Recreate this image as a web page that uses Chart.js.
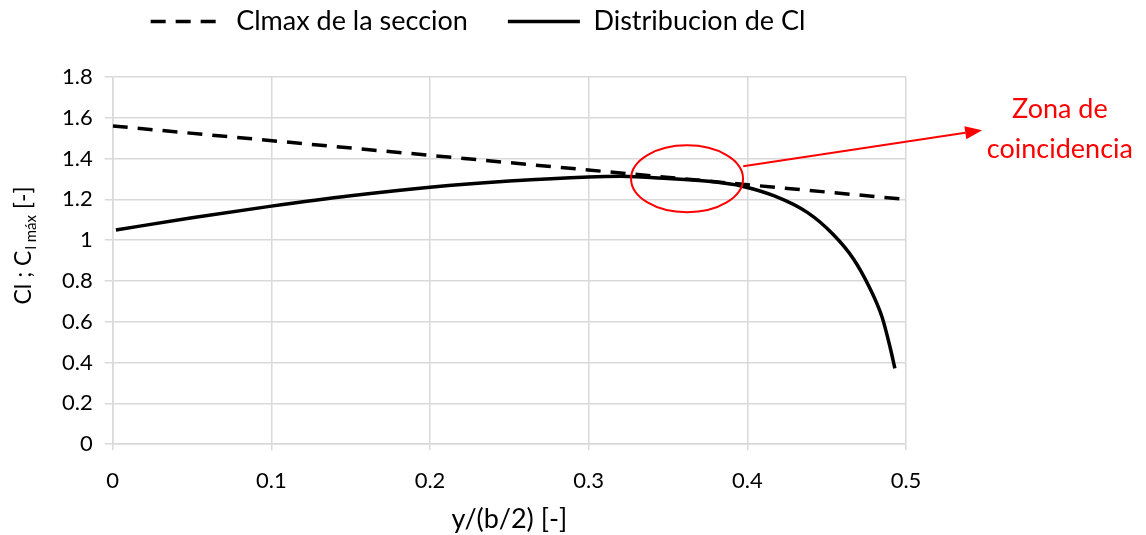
<!DOCTYPE html>
<html>
<head>
<meta charset="utf-8">
<script src="https://cdn.jsdelivr.net/npm/chart.js@4.4.1/dist/chart.umd.min.js"></script>
<style>
  html, body { margin: 0; padding: 0; background: #fff; }
  #wrap { width: 1146px; height: 535px; }
</style>
</head>
<body>
<div id="wrap"><canvas id="myChart" width="1146" height="535"></canvas></div>
<script>
// Clmax de la seccion (linea recta a trazos)
const clmaxX = [0, 0.5];
const clmaxY = [1.56, 1.20];

// Distribucion de Cl
const clX = [0.002, 0.05, 0.1, 0.15, 0.2, 0.25, 0.3, 0.32, 0.35, 0.38, 0.396, 0.417, 0.438, 0.454, 0.467, 0.477, 0.485, 0.490, 0.493];
const clY = [1.05, 1.11, 1.167, 1.218, 1.26, 1.29, 1.31, 1.313, 1.302, 1.285, 1.266, 1.217, 1.135, 1.029, 0.907, 0.768, 0.621, 0.474, 0.372];

const seriesNames = ['Clmax de la seccion', 'Distribucion de Cl'];
const xTicks = [0, 0.1, 0.2, 0.3, 0.4, 0.5];
const yTicks = [0, 0.2, 0.4, 0.6, 0.8, 1, 1.2, 1.4, 1.6, 1.8];

// anotacion: elipse (centro, radios) y flecha, en unidades de datos
const zoneCenter = [0.362, 1.301];
const zoneRadius = [0.0353, 0.164];
const arrowFrom = [0.3974, 1.363];
const arrowTo = [0.548, 1.539];
const noteLines = ['Zona de', 'coincidencia'];
const notePos = [[0.597, 1.642], [0.597, 1.446]];

const FONT = 'Lato, "Open Sans", sans-serif';
const legendExtra = 32;
const toPoints = (xs, ys) => xs.map((x, i) => ({ x: x, y: ys[i] }));

// da mas alto a la leyenda para separar el grafico
const legendSpace = {
  id: 'legendSpace',
  beforeInit: (chart) => {
    const fit = chart.legend.fit;
    chart.legend.fit = function () {
      fit.call(this);
      this.height += legendExtra;
    };
  }
};

const annotatePlugin = {
  id: 'annotate',
  afterDraw: (chart) => {
    const ctx = chart.ctx;
    const sx = chart.scales.x;
    const sy = chart.scales.y;
    const px = (v) => sx.getPixelForValue(v);
    const py = (v) => sy.getPixelForValue(v);
    ctx.save();
    ctx.strokeStyle = '#ff0000';
    ctx.fillStyle = '#ff0000';
    ctx.lineWidth = 2;
    // elipse
    const cx = px(zoneCenter[0]);
    const cy = py(zoneCenter[1]);
    const rx = px(zoneCenter[0] + zoneRadius[0]) - cx;
    const ry = cy - py(zoneCenter[1] + zoneRadius[1]);
    ctx.beginPath();
    ctx.ellipse(cx, cy, rx, ry, 0, 0, Math.PI * 2);
    ctx.stroke();
    // flecha
    const x1 = px(arrowFrom[0]), y1 = py(arrowFrom[1]);
    const x2 = px(arrowTo[0]), y2 = py(arrowTo[1]);
    const ang = Math.atan2(y2 - y1, x2 - x1);
    const head = 17;
    const bx = x2 - Math.cos(ang) * head, by = y2 - Math.sin(ang) * head;
    ctx.beginPath();
    ctx.moveTo(x1, y1);
    ctx.lineTo(bx, by);
    ctx.stroke();
    ctx.beginPath();
    ctx.moveTo(x2, y2);
    ctx.lineTo(bx + Math.sin(ang) * 6.5, by - Math.cos(ang) * 6.5);
    ctx.lineTo(bx - Math.sin(ang) * 6.5, by + Math.cos(ang) * 6.5);
    ctx.closePath();
    ctx.fill();
    // texto
    ctx.font = '27px ' + FONT;
    ctx.textAlign = 'center';
    ctx.textBaseline = 'middle';
    noteLines.forEach((t, i) => ctx.fillText(t, px(notePos[i][0]), py(notePos[i][1])));

    // titulo eje Y con subindice
    ctx.fillStyle = '#000';
    ctx.translate(24, 246);
    ctx.rotate(-Math.PI / 2);
    ctx.textBaseline = 'middle';
    ctx.textAlign = 'left';
    const part1 = 'Cl ; C';
    const part2 = 'l máx';
    const part3 = ' [-]';
    ctx.font = '23px ' + FONT;
    const w1 = ctx.measureText(part1).width;
    const w3 = ctx.measureText(part3).width;
    ctx.font = '15px ' + FONT;
    const w2 = ctx.measureText(part2).width;
    const start = -(w1 + w2 + w3) / 2;
    ctx.font = '23px ' + FONT;
    ctx.fillText(part1, start, 0);
    ctx.font = '15px ' + FONT;
    ctx.fillText(part2, start + w1 + 1, 7);
    ctx.font = '23px ' + FONT;
    ctx.fillText(part3, start + w1 + w2 + 1, 0);
    ctx.restore();
  }
};

const ctx = document.getElementById('myChart').getContext('2d');
const chart = new Chart(ctx, {
  type: 'line',
  data: {
    datasets: [{
      label: seriesNames[0],
      data: toPoints(clmaxX, clmaxY),
      borderColor: '#000',
      backgroundColor: '#000',
      borderWidth: 3.5,
      borderDash: [15, 10],
      pointRadius: 0,
      pointStyle: 'line'
    }, {
      label: seriesNames[1],
      data: toPoints(clX, clY),
      borderColor: '#000',
      backgroundColor: '#000',
      borderWidth: 3.5,
      cubicInterpolationMode: 'monotone',
      pointRadius: 0,
      pointStyle: 'line'
    }]
  },
  options: {
    responsive: false,
    animation: false,
    layout: { padding: { left: 50, right: 240, top: -32, bottom: 0 } },
    plugins: {
      legend: {
        position: 'top',
        align: 'center',
        labels: {
          usePointStyle: true,
          pointStyle: 'line',
          pointStyleWidth: 72,
          color: '#000',
          font: { family: FONT, size: 27 },
          padding: 40,
          generateLabels: (chart) => {
            const items = Chart.defaults.plugins.legend.labels.generateLabels(chart);
            items.forEach((it, i) => {
              it.lineDash = chart.data.datasets[i].borderDash || [];
              it.lineWidth = 3.5;
              it.strokeStyle = '#000';
            });
            return items;
          }
        }
      },
      tooltip: { enabled: false }
    },
    scales: {
      x: {
        type: 'linear',
        min: 0,
        max: 0.5,
        afterBuildTicks: (axis) => { axis.ticks = xTicks.map(v => ({ value: v })); },
        ticks: {
          color: '#000',
          font: { family: FONT, size: 22 },
          padding: 18,
          maxRotation: 0,
          callback: (v) => String(Math.round(v * 10) / 10)
        },
        grid: { color: '#d9d9d9', lineWidth: 1.5, tickLength: 6 },
        border: { color: '#d9d9d9', width: 1.5 },
        title: {
          display: true,
          text: 'y/(b/2) [-]',
          color: '#000',
          font: { family: FONT, size: 27 },
          padding: { top: -10, bottom: 0 }
        }
      },
      y: {
        type: 'linear',
        min: 0,
        max: 1.8,
        afterBuildTicks: (axis) => { axis.ticks = yTicks.map(v => ({ value: v })); },
        ticks: {
          color: '#000',
          font: { family: FONT, size: 22 },
          padding: 12,
          callback: (v) => String(Math.round(v * 10) / 10)
        },
        grid: { color: '#d9d9d9', lineWidth: 1.5, tickLength: 8 },
        border: { color: '#d9d9d9', width: 1.5 }
      }
    }
  },
  plugins: [legendSpace, annotatePlugin]
});
</script>
</body>
</html>
